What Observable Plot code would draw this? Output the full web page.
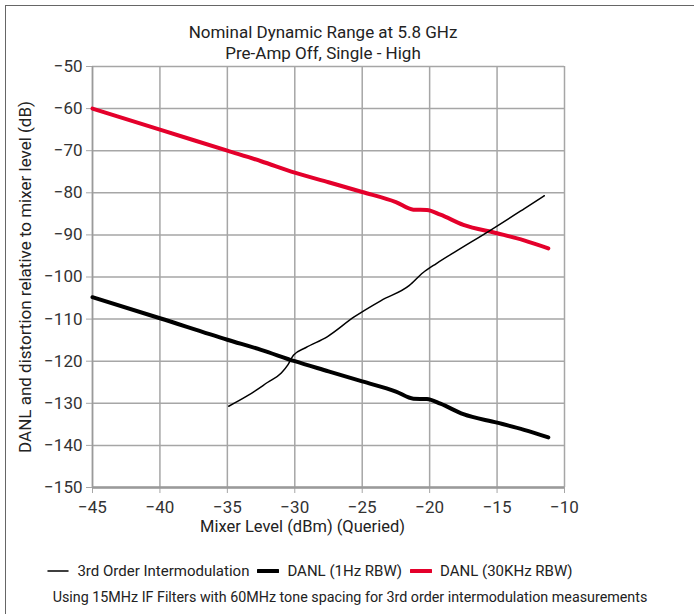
<!DOCTYPE html>
<html>
<head>
<meta charset="utf-8">
<script src="https://cdn.jsdelivr.net/npm/d3@7"></script>
<script src="https://cdn.jsdelivr.net/npm/@observablehq/plot@0.6"></script>
<style>
  html, body { margin: 0; padding: 0; background: #fff; }
  #wrap { position: relative; width: 694px; height: 614px; font-family: Roboto, "Noto Sans", sans-serif; color: #222; overflow: hidden; }
  #frame { position: absolute; left: 5px; top: 5px; width: 700px; height: 620px; border-left: 1px solid #666; border-top: 1px solid #666; }
  #title { position: absolute; left: 0; top: 22px; width: 646px; text-align: center; font-size: 17px; line-height: 21px; }
  #chart { position: absolute; left: 0; top: 0; }
  #legend { position: absolute; left: 0; top: 562px; width: 620px; display: flex; justify-content: center; align-items: center; font-size: 15px; }
  #legend .item { display: flex; align-items: center; margin: 0 4px; }
  #legend svg { margin-right: 8px; }
  #caption { position: absolute; left: 0; top: 589px; width: 700px; text-align: center; font-size: 14.3px; }
</style>
</head>
<body>
<div id="wrap">
  <div id="frame"></div>
  <div id="chart"></div>
  <div id="title"></div>
  <div id="legend"></div>
  <div id="caption"></div>
</div>
<script>
const titleLines = ["Nominal Dynamic Range at 5.8 GHz", "Pre-Amp Off, Single - High"];
const xLabel = "Mixer Level (dBm) (Queried)";
const yLabel = "DANL and distortion relative to mixer level (dB)";
const captionText = "Using 15MHz IF Filters with 60MHz tone spacing for 3rd order intermodulation measurements";

const xTicks = [-45, -40, -35, -30, -25, -20, -15, -10];
const yTicks = [-50, -60, -70, -80, -90, -100, -110, -120, -130, -140, -150];

const seriesNames = ["3rd Order Intermodulation", "DANL (1Hz RBW)", "DANL (30KHz RBW)"];
const seriesColors = ["#000000", "#000000", "#e4002b"];
const seriesWidths = [1.5, 4, 4];

// 3rd order intermodulation
const imdX = [-34.9, -33.5, -32, -31, -30.5, -30.1, -29.2, -27.6, -25.6, -23.6, -21.5, -20.5, -19.5, -18, -15.5, -13, -11.5];
const imdY = [-130.7, -128.2, -125, -122.8, -120.8, -118.6, -116.8, -114.2, -109.5, -105.6, -102, -99, -96.8, -93.8, -88.9, -83.8, -80.7];

// DANL (1Hz RBW)
const danl1X = [-45, -40, -35, -32.5, -30, -27.5, -25, -22.5, -21.2, -20.2, -19.2, -17.5, -15, -13, -11.2];
const danl1Y = [-104.8, -109.8, -114.9, -117.3, -120, -122.4, -124.8, -127.2, -128.9, -129, -130.1, -132.6, -134.6, -136.3, -138.1];

// DANL (30KHz RBW)
const danl30X = [-45, -40, -35, -32.5, -30, -27.5, -25, -22.5, -21.2, -20.2, -19.2, -17.5, -15, -13, -11.2];
const danl30Y = [-60, -65, -70, -72.5, -75.2, -77.5, -79.8, -82.2, -84, -84.1, -85.2, -87.6, -89.6, -91.3, -93.2];

const toRows = (xs, ys, s) => xs.map((x, i) => ({x, y: ys[i], s}));
const imd = toRows(imdX, imdY, seriesNames[0]);
const d1 = toRows(danl1X, danl1Y, seriesNames[1]);
const d30 = toRows(danl30X, danl30Y, seriesNames[2]);

const gridColor = "#a6a6a6";

const chart = Plot.plot({
  width: 694,
  height: 545,
  marginLeft: 92,
  marginRight: 130,
  marginTop: 66,
  marginBottom: 58,
  style: {fontFamily: "Roboto, 'Noto Sans', sans-serif", fontSize: "17px", color: "#333", background: "transparent", overflow: "visible"},
  x: {domain: [-45, -10]},
  y: {domain: [-150, -50]},
  marks: [
    Plot.gridX(xTicks, {stroke: gridColor, strokeOpacity: 1, strokeWidth: 1.5}),
    Plot.gridY(yTicks, {stroke: gridColor, strokeOpacity: 1, strokeWidth: 1.5}),
    Plot.axisX(xTicks, {tickSize: 6, tickPadding: 7, stroke: gridColor, fill: "#333", label: null, fontSize: 17}),
    Plot.axisY(yTicks, {tickSize: 6, tickPadding: 4, stroke: gridColor, fill: "#333", label: null, fontSize: 17}),
    Plot.ruleY([-150], {stroke: "#9a9a9a", strokeWidth: 2.5}),
    Plot.ruleX([-45], {stroke: "#9a9a9a", strokeWidth: 1.5}),
    Plot.line(d30, {x: "x", y: "y", stroke: seriesColors[2], strokeWidth: seriesWidths[2], curve: "monotone-x"}),
    Plot.line(d1, {x: "x", y: "y", stroke: seriesColors[1], strokeWidth: seriesWidths[1], curve: "monotone-x"}),
    Plot.line(imd, {x: "x", y: "y", stroke: seriesColors[0], strokeWidth: seriesWidths[0], curve: "monotone-x"}),
    Plot.text([xLabel], {frameAnchor: "bottom", dy: 44, dx: -26, fill: "#222", fontSize: 16.5}),
    Plot.text([yLabel], {frameAnchor: "left", rotate: -90, dx: -67, textAnchor: "middle", fill: "#222", fontSize: 17})
  ]
});
document.getElementById("chart").appendChild(chart);

document.getElementById("title").innerHTML = titleLines.map(t => `<div>${t}</div>`).join("");
document.getElementById("caption").textContent = captionText;

const legend = document.getElementById("legend");
seriesNames.forEach((name, i) => {
  const item = document.createElement("div");
  item.className = "item";
  item.innerHTML = `<svg width="22" height="8"><line x1="1" x2="21" y1="4" y2="4" stroke="${seriesColors[i]}" stroke-width="${seriesWidths[i] === 4 ? 4 : 1.5}" stroke-linecap="round"/></svg><span>${name}</span>`;
  legend.appendChild(item);
});
</script>
</body>
</html>
